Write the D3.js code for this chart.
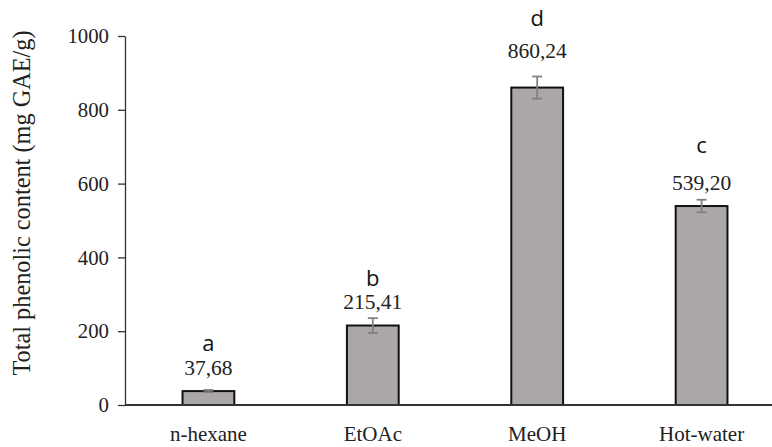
<!DOCTYPE html>
<html>
<head>
<meta charset="utf-8">
<script src="https://cdn.jsdelivr.net/npm/d3@7"></script>
<style>
  body { margin: 0; background: #fff; }
  text { font-family: 'Liberation Serif', 'Times New Roman', serif; }
</style>
</head>
<body>
<div id="graph"></div>
<script>
const categories = ['n-hexane', 'EtOAc', 'MeOH', 'Hot-water']
const values = [37.68, 215.41, 860.24, 539.20]
const errors = [3, 20, 30, 17]
const letters = ['a', 'b', 'd', 'c']
const valueLabels = ['37,68', '215,41', '860,24', '539,20']
const yTicks = [0, 200, 400, 600, 800, 1000]

const width = 772
const height = 447
const margin = { left: 125, right: -13, top: 36, bottom: 42 }
const serif = "'Liberation Serif', 'Times New Roman', serif"

const svg = d3.select('#graph').append('svg')
  .attr('width', width)
  .attr('height', height)

// Scales
const xScale = d3.scaleBand().domain(categories)
  .range([margin.left, width - margin.right])
  .paddingInner(0.685).paddingOuter(0.35)
const yScale = d3.scaleLinear().domain([0, 1000])
  .range([height - margin.bottom, margin.top])

// y axis
const yAxis = svg.append('g')
  .attr('transform', `translate(${margin.left},0)`)
  .call(d3.axisLeft(yScale).tickValues(yTicks).tickFormat(d3.format('d'))
    .tickSize(7).tickPadding(9).tickSizeOuter(0))
  .attr('font-family', serif)
  .attr('font-size', 20.8)
yAxis.select('.domain').attr('stroke', '#333').attr('stroke-width', 1.3)
yAxis.selectAll('.tick line').attr('stroke', '#333').attr('stroke-width', 1.3)
yAxis.selectAll('.tick text').attr('fill', '#222')

// bars
svg.selectAll('rect.bar').data(values).join('rect')
  .attr('class', 'bar')
  .attr('x', (d, i) => xScale(categories[i]))
  .attr('y', (d) => yScale(d))
  .attr('width', xScale.bandwidth())
  .attr('height', (d) => yScale(0) - yScale(d))
  .attr('fill', '#aca7a7')
  .attr('stroke', '#111')
  .attr('stroke-width', 2)

// x axis
const xAxis = svg.append('g')
  .attr('transform', `translate(0,${yScale(0)})`)
  .call(d3.axisBottom(xScale).tickSize(0).tickPadding(21).tickSizeOuter(0))
  .attr('font-family', serif)
  .attr('font-size', 21)
xAxis.select('.domain').attr('stroke', '#333').attr('stroke-width', 2)
  .attr('d', `M${margin.left},0H${width}`)
xAxis.selectAll('.tick text').attr('fill', '#222')

// error bars
const err = svg.append('g').attr('stroke', '#808080').attr('stroke-width', 1.8)
values.forEach((v, i) => {
  const cx = xScale(categories[i]) + xScale.bandwidth() / 2
  const y1 = yScale(v + errors[i])
  const y2 = yScale(v - errors[i])
  err.append('line').attr('x1', cx).attr('x2', cx).attr('y1', y1).attr('y2', y2)
  err.append('line').attr('x1', cx - 5).attr('x2', cx + 5).attr('y1', y1).attr('y2', y1)
  err.append('line').attr('x1', cx - 5).attr('x2', cx + 5).attr('y1', y2).attr('y2', y2)
})

// value labels
const labelOffset = [15, 9, 19, 10]
svg.selectAll('text.val').data(values).join('text')
  .attr('class', 'val')
  .attr('x', (d, i) => xScale(categories[i]) + xScale.bandwidth() / 2)
  .attr('y', (d, i) => yScale(d + errors[i]) - labelOffset[i])
  .attr('text-anchor', 'middle')
  .attr('font-size', 21.5)
  .attr('fill', '#222')
  .text((d, i) => valueLabels[i])

// significance letters
const letterGap = [24, 23, 32, 37]
svg.selectAll('text.sig').data(values).join('text')
  .attr('class', 'sig')
  .attr('x', (d, i) => xScale(categories[i]) + xScale.bandwidth() / 2)
  .attr('y', (d, i) => yScale(d + errors[i]) - labelOffset[i] - letterGap[i])
  .attr('text-anchor', 'middle')
  .attr('font-size', 22)
  .attr('fill', '#111')
  .style('font-family', "'Open Sans', 'Liberation Sans', sans-serif")
  .text((d, i) => letters[i])

// y label
svg.append('text')
  .attr('transform', 'translate(30,203) rotate(-90)')
  .attr('text-anchor', 'middle')
  .attr('font-size', 24.3)
  .attr('fill', '#222')
  .text('Total phenolic content (mg GAE/g)')
</script>
</body>
</html>
